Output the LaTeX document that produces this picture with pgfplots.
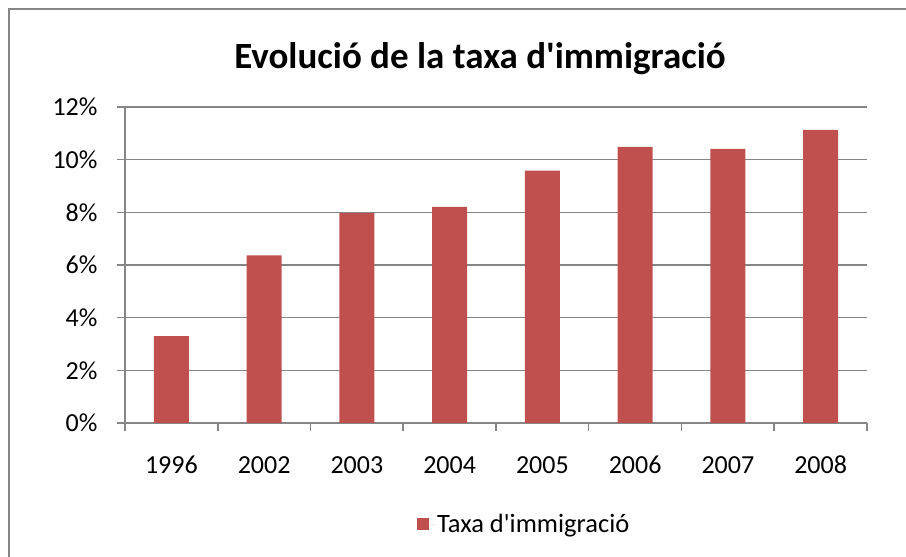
\documentclass[border=0pt]{standalone}
\usepackage{pgfplots}
\pgfplotsset{compat=1.18}
\usepackage{fontspec}
\setmainfont{Carlito}[Ligatures=TeXOff]
\definecolor{barred}{HTML}{C0504D}
\definecolor{gridgray}{HTML}{868686}
\begin{document}
\begin{tikzpicture}[x=1pt,y=1pt]
\useasboundingbox (0,0) rectangle (906,557);
\draw[gridgray, line width=2pt] (9,0) -- (9,548) -- (906,548);
\node[anchor=base, font=\fontsize{37}{44}\selectfont\bfseries] at (480,488) {Evolució de la taxa d'immigració};
\begin{axis}[
  at={(125pt,134pt)}, anchor=south west,
  scale only axis, width=742pt, height=316pt,
  xmin=-0.5, xmax=7.5, ymin=0, ymax=12,
  axis x line*=bottom, axis y line*=left,
  ymajorgrids, grid style={gridgray, line width=1.2pt},
  axis line style={gridgray, line width=1.5pt},
  tick style={gridgray, line width=1.5pt}, tick align=outside, major tick length=8pt,
  xtick={-0.5,0.5,1.5,2.5,3.5,4.5,5.5,6.5,7.5},
  x tick label as interval,
  xticklabels={1996,2002,2003,2004,2005,2006,2007,2008},
  ytick={0,2,4,6,8,10,12},
  yticklabels={0\%,2\%,4\%,6\%,8\%,10\%,12\%},
  ticklabel style={font=\fontsize{26}{31}\selectfont},
  yticklabel style={xshift=-16pt},
  xticklabel style={yshift=-22pt, text height=17pt, text depth=0pt},
  ybar, bar width=35pt,
  legend style={at={(0.538,-0.320)}, anchor=center, draw=none, fill=none,
    font=\fontsize{26.5}{31}\selectfont},
  legend image code/.code={\fill[barred] (0pt,-6pt) rectangle (12pt,6pt); \path (12pt,0pt) -- (18pt,0pt);},
]
\addplot[fill=barred, draw=none] coordinates {(0,3.30) (1,6.37) (2,7.97) (3,8.21) (4,9.58) (5,10.49) (6,10.41) (7,11.13)};
\legend{Taxa d'immigració}
\end{axis}
\end{tikzpicture}
\end{document}
